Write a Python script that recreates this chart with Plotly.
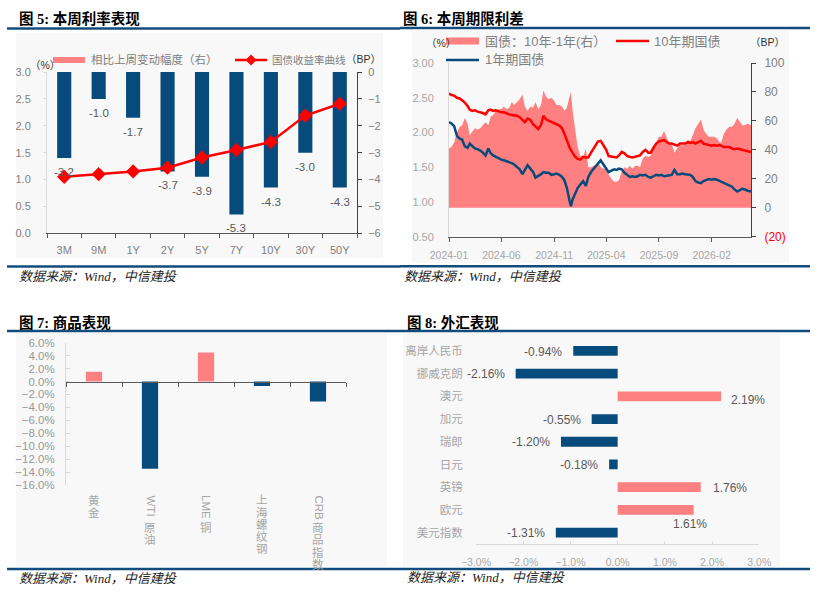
import plotly.graph_objects as go

W, H = 821, 597


def px(x):
    return x / W


def py(y):
    return 1 - y / H


BLUE = "#064B7C"
PINK = "#FF8080"
RED = "#FF0000"
RULE = "#124C7C"
BG = "#F8F8F8"
CJK = "Liberation Sans, Noto Sans CJK SC"
TITLEF = "Liberation Serif, Noto Sans CJK SC"

# ---------------- Panel 1: yield curve ----------------
tenors = ["3M", "9M", "1Y", "2Y", "5Y", "7Y", "10Y", "30Y", "50Y"]
weekly_change_bp = [-3.2, -1.0, -1.7, -3.7, -3.9, -5.3, -4.3, -3.0, -4.3]
yield_curve = [1.05, 1.10, 1.15, 1.22, 1.41, 1.55, 1.70, 2.19, 2.41]

# ---------------- Panel 2: term spread ----------------
dates = [
    "2024-01-01", "2024-01-08", "2024-01-16", "2024-01-24",
    "2024-02-01", "2024-02-08", "2024-02-16", "2024-02-24",
    "2024-03-01", "2024-03-08", "2024-03-16", "2024-03-24",
    "2024-04-01", "2024-04-08", "2024-04-16", "2024-04-24",
    "2024-05-01", "2024-05-08", "2024-05-16", "2024-05-24",
    "2024-06-01", "2024-06-08", "2024-06-16", "2024-06-24",
    "2024-07-01", "2024-07-08", "2024-07-16", "2024-07-24",
    "2024-08-01", "2024-08-08", "2024-08-16", "2024-08-24",
    "2024-09-01", "2024-09-08", "2024-09-16", "2024-09-24",
    "2024-10-01", "2024-10-08", "2024-10-16", "2024-10-24",
    "2024-11-01", "2024-11-08", "2024-11-16", "2024-11-24",
    "2024-12-01", "2024-12-08", "2024-12-16", "2024-12-20", "2024-12-24",
    "2025-01-01", "2025-01-08", "2025-01-16", "2025-01-24",
    "2025-02-01", "2025-02-08", "2025-02-16", "2025-02-24",
    "2025-03-01", "2025-03-08", "2025-03-16", "2025-03-24",
    "2025-04-01", "2025-04-08", "2025-04-16", "2025-04-24",
    "2025-05-01", "2025-05-08", "2025-05-16", "2025-05-24",
    "2025-06-01", "2025-06-08", "2025-06-16", "2025-06-24",
    "2025-07-01", "2025-07-08", "2025-07-16", "2025-07-24",
    "2025-08-01", "2025-08-08", "2025-08-16", "2025-08-24",
    "2025-09-01", "2025-09-08", "2025-09-16", "2025-09-24",
    "2025-10-01", "2025-10-08", "2025-10-16", "2025-10-24",
    "2025-11-01", "2025-11-08", "2025-11-16", "2025-11-24",
    "2025-12-01", "2025-12-08", "2025-12-16", "2025-12-24",
    "2026-01-01", "2026-01-08", "2026-01-16", "2026-01-24",
    "2026-02-01", "2026-02-08", "2026-02-16", "2026-02-24",
    "2026-03-01", "2026-03-08", "2026-03-16", "2026-03-24",
    "2026-04-01", "2026-04-08", "2026-04-16", "2026-04-24",
    "2026-05-01", "2026-05-08", "2026-05-16", "2026-05-26",
]
cgb_10y = [
    2.56, 2.54, 2.53, 2.50,
    2.49, 2.46, 2.43, 2.38,
    2.33, 2.31, 2.32, 2.30,
    2.29, 2.28, 2.26, 2.32,
    2.33, 2.31, 2.32, 2.30,
    2.29, 2.29, 2.27, 2.26,
    2.25, 2.25, 2.24, 2.22,
    2.18, 2.15, 2.20, 2.18,
    2.12, 2.08, 2.05, 2.11,
    2.24, 2.19, 2.17, 2.15,
    2.14, 2.12, 2.10, 2.06,
    1.98, 1.89, 1.78, 1.74, 1.71,
    1.65, 1.62, 1.61, 1.65,
    1.64, 1.64, 1.71, 1.77,
    1.81, 1.87, 1.88, 1.81,
    1.75, 1.66, 1.65, 1.65,
    1.64, 1.67, 1.72, 1.70,
    1.66, 1.65, 1.64, 1.65,
    1.66, 1.67, 1.72, 1.75,
    1.71, 1.71, 1.78, 1.84,
    1.87, 1.88, 1.89, 1.86,
    1.84, 1.84, 1.82, 1.81,
    1.84, 1.84, 1.84, 1.86,
    1.85, 1.86, 1.84, 1.86,
    1.88, 1.84, 1.83, 1.82,
    1.81, 1.82, 1.81, 1.82,
    1.81, 1.79, 1.79, 1.79,
    1.77, 1.76, 1.77, 1.76,
    1.75, 1.75, 1.74, 1.72,
]
cgb_1y = [
    2.15, 2.13, 2.09, 1.95,
    1.91, 1.90, 1.80, 1.78,
    1.84, 1.80, 1.77, 1.76,
    1.74, 1.71, 1.67, 1.77,
    1.70, 1.67, 1.65, 1.62,
    1.61, 1.60, 1.59, 1.57,
    1.56, 1.54, 1.51, 1.47,
    1.40, 1.46, 1.53, 1.48,
    1.43, 1.35, 1.37, 1.40,
    1.43, 1.42, 1.42, 1.39,
    1.40, 1.41, 1.39, 1.36,
    1.31, 1.20, 1.01, 0.94, 1.03,
    1.12, 1.20, 1.25, 1.30,
    1.23, 1.36, 1.43, 1.48,
    1.52, 1.55, 1.60, 1.54,
    1.48, 1.43, 1.45, 1.47,
    1.46, 1.48, 1.47, 1.42,
    1.39, 1.36, 1.37, 1.36,
    1.37, 1.39, 1.38, 1.39,
    1.36, 1.35, 1.37, 1.39,
    1.38, 1.39, 1.37, 1.38,
    1.39, 1.39, 1.46, 1.40,
    1.40, 1.41, 1.40, 1.39,
    1.39, 1.36, 1.30, 1.28,
    1.27, 1.30, 1.32, 1.33,
    1.32, 1.33, 1.32, 1.30,
    1.29, 1.28, 1.26, 1.24,
    1.22, 1.18, 1.15, 1.17,
    1.19, 1.18, 1.16, 1.15,
]
spread_bp = [
    41, 42, 45, 52,
    56, 57, 62, 58,
    50, 52, 55, 54,
    55, 57, 59, 57,
    63, 64, 67, 68,
    68, 70, 68, 69,
    73, 71, 73, 75,
    78, 70, 67, 70,
    69, 73, 68, 71,
    81, 77, 75, 76,
    74, 71, 71, 70,
    67, 69, 77, 80, 68,
    53, 42, 36, 35,
    41, 28, 28, 29,
    29, 32, 28, 27,
    27, 23, 20, 18,
    18, 19, 25, 28,
    27, 29, 27, 29,
    29, 28, 34, 36,
    35, 36, 41, 45,
    49, 49, 53, 48,
    45, 44, 38, 41,
    44, 43, 44, 47,
    46, 50, 55, 58,
    61, 54, 51, 49,
    49, 49, 48, 45,
    45, 51, 54, 56,
    56, 58, 62, 59,
    57, 57, 58, 57,
]
spread_ticks = [-20, 0, 20, 40, 60, 80, 100]

# ---------------- Panel 3: commodities ----------------
commodities = ["黄金", "WTI原油", "LME铜", "上海螺纹钢", "CRB商品指数"]
commodity_chg = [1.5, -13.5, 4.5, -0.7, -3.1]

# ---------------- Panel 4: FX ----------------
fx_names = ["离岸人民币", "挪威克朗", "澳元", "加元", "瑞郎", "日元", "英镑", "欧元", "美元指数"]
fx_chg = [-0.94, -2.16, 2.19, -0.55, -1.20, -0.18, 1.76, 1.61, -1.31]

fig = go.Figure()

# Panel 1 traces
fig.add_trace(go.Bar(x=tenors, y=weekly_change_bp, xaxis="x", yaxis="y",
                     marker=dict(color=BLUE, line=dict(width=0)), width=0.41,
                     name="相比上周变动幅度（右）", showlegend=False))
fig.add_trace(go.Scatter(x=tenors, y=yield_curve, xaxis="x", yaxis="y2",
                         mode="lines+markers", line=dict(color=RED, width=2.5),
                         marker=dict(symbol="diamond", size=11, color=RED),
                         name="国债收益率曲线", showlegend=False))

# Panel 2 traces
fig.add_trace(go.Scatter(x=dates, y=spread_bp, xaxis="x2", yaxis="y3", fill="tozeroy",
                         mode="lines", line=dict(width=0, color=PINK), fillcolor=PINK,
                         name="国债：10年-1年(右）", showlegend=False))
fig.add_trace(go.Scatter(x=dates, y=cgb_10y, xaxis="x2", yaxis="y4", mode="lines",
                         line=dict(color=RED, width=2.5), name="10年期国债", showlegend=False))
fig.add_trace(go.Scatter(x=dates, y=cgb_1y, xaxis="x2", yaxis="y4", mode="lines",
                         line=dict(color=BLUE, width=2.5), name="1年期国债", showlegend=False))

# Panel 3 traces
fig.add_trace(go.Bar(x=commodities, y=commodity_chg, xaxis="x3", yaxis="y5",
                     marker=dict(color=[PINK if v > 0 else BLUE for v in commodity_chg], line=dict(width=0)),
                     width=0.29, showlegend=False))

# Panel 4 traces
fig.add_trace(go.Bar(x=fx_chg, y=fx_names, orientation="h", xaxis="x4", yaxis="y6",
                     marker=dict(color=[PINK if v > 0 else BLUE for v in fx_chg], line=dict(width=0)),
                     width=0.43, showlegend=False))

GRAY_T = "#808080"
LGRAY_T = "#A6A6A6"
DARK_L = "#595959"

layout_axes = dict(
    xaxis=dict(domain=[px(47), px(357)], anchor="y", type="category", range=[-0.5, 8.5],
               showline=True, linecolor=DARK_L, ticks="outside", tickson="boundaries",
               ticklen=4, tickcolor=DARK_L, tickfont=dict(size=11, color=GRAY_T, family=CJK),
               ticklabelstandoff=6, showgrid=False, zeroline=False),
    yaxis=dict(domain=[py(233.3), py(72)], anchor="x", side="right", range=[-6, 0], dtick=1,
               showline=True, linecolor="#404040", ticks="outside", ticklen=4, tickcolor="#404040",
               tickfont=dict(size=11, color=GRAY_T, family=CJK), ticklabelstandoff=4,
               showgrid=False, zeroline=False),
    yaxis2=dict(overlaying="y", side="left", anchor="x", range=[0, 3], dtick=0.5, tickformat=".1f",
                showline=True, linecolor="#D9D9D9", ticks="outside", ticklen=3, tickcolor="#D9D9D9",
                tickfont=dict(size=11, color=GRAY_T, family=CJK), ticklabelstandoff=10,
                showgrid=False, zeroline=False),
    xaxis2=dict(domain=[px(449), px(751)], anchor="y3", type="date",
                range=["2024-01-01", "2026-05-26"], tick0="2024-01-01", dtick="M5",
                tickformat="%Y-%m", showline=True, linecolor=DARK_L, ticks="outside", ticklen=4,
                tickcolor=DARK_L, tickfont=dict(size=10.5, color=LGRAY_T, family=CJK),
                ticklabelstandoff=5, showgrid=False, zeroline=False),
    yaxis3=dict(domain=[py(236.7), py(63)], anchor="x2", side="right", range=[-20, 100],
                tickmode="array", tickvals=spread_ticks,
                ticktext=["<span style='color:#FF0000'>(20)</span>" if v < 0 else str(v) for v in spread_ticks],
                showline=True, linecolor="#404040", ticks="outside", ticklen=4, tickcolor="#404040",
                tickfont=dict(size=12, color=GRAY_T, family=CJK), ticklabelstandoff=6,
                showgrid=False, zeroline=False),
    yaxis4=dict(overlaying="y3", side="left", anchor="x2", range=[0.5, 3.0], dtick=0.5,
                tickformat=".2f", showline=True, linecolor="#D9D9D9", ticks="",
                tickfont=dict(size=11, color=LGRAY_T, family=CJK), ticklabelstandoff=12,
                showgrid=False, zeroline=False),
    xaxis3=dict(domain=[px(66), px(346)], anchor="free", position=0.36095, type="category",
                range=[-0.5, 4.5], showticklabels=False, showline=True, linecolor=DARK_L,
                ticks="outside", tickson="boundaries", ticklen=4, tickcolor=DARK_L,
                showgrid=False, zeroline=False),
    yaxis5=dict(domain=[py(485), py(342.7)], anchor="x3", range=[-16, 6], dtick=2,
                tickformat=".1f", ticksuffix="%", showline=True, linecolor="#D9D9D9",
                ticks="inside", ticklen=4, tickcolor="#D9D9D9",
                tickfont=dict(size=11.5, color="#999999", family=CJK), ticklabelstandoff=8,
                showgrid=False, zeroline=False),
    xaxis4=dict(domain=[px(476), px(759.3)], anchor="y6", range=[-3, 3], dtick=1,
                tickformat=".1f", ticksuffix="%", showline=True, linecolor="#D9D9D9",
                ticks="inside", ticklen=3, tickcolor="#D9D9D9",
                tickfont=dict(size=10.5, color="#AAAAAA", family=CJK), ticklabelstandoff=8,
                showgrid=False, zeroline=False),
    yaxis6=dict(domain=[py(544), py(339.5)], anchor="x4", type="category", range=[8.5, -0.5],
                showline=False, ticks="outside", ticklen=10, tickcolor="rgba(0,0,0,0)",
                tickfont=dict(size=11.5, color=LGRAY_T, family=CJK), showgrid=False, zeroline=False),
    yaxis7=dict(overlaying="y6", anchor="free", position=(px(476) + px(759.3)) / 2, side="right",
                range=[8.5, -0.5], tickmode="array", tickvals=[i - 0.5 for i in range(10)],
                ticks="outside", ticklen=4, tickcolor="#404040", showline=True, linecolor="#404040",
                showticklabels=False, showgrid=False, zeroline=False),
)

shapes = []
annotations = []

# chart backgrounds
for x0, y0, x1, y1 in [(16, 33, 383, 258), (412, 30, 789, 263), (16, 333, 387, 567), (403, 333, 780, 567)]:
    shapes.append(dict(type="rect", xref="paper", yref="paper", x0=px(x0), x1=px(x1),
                       y0=py(y1), y1=py(y0), fillcolor=BG, line=dict(width=0), layer="below"))

# rules
for x0, x1, yy in [(7, 400, 28.5), (7, 400, 266.5), (400, 810, 28), (400, 810, 266.3),
                   (7, 400, 331), (7, 400, 569), (400, 810, 331), (400, 810, 569)]:
    shapes.append(dict(type="line", xref="paper", yref="paper", x0=px(x0), x1=px(x1),
                       y0=py(yy), y1=py(yy), line=dict(color=RULE, width=2.5)))

# titles and sources
for x, y, t in [(17, 18, "图 5: 本周利率表现"), (401, 18, "图 6: 本周期限利差"),
                (17, 322, "图 7: 商品表现"), (405, 322, "图 8: 外汇表现")]:
    annotations.append(dict(xref="paper", yref="paper", x=px(x), y=py(y), xanchor="left",
                            yanchor="middle", showarrow=False, text="<b>" + t + "</b>",
                            font=dict(size=14.5, color="#000000", family=TITLEF)))
for x, y in [(17, 276.5), (402, 276.5), (17, 578), (405, 577.5)]:
    annotations.append(dict(xref="paper", yref="paper", x=px(x), y=py(y), xanchor="left",
                            yanchor="middle", showarrow=False, text="<i>数据来源：Wind，中信建投</i>",
                            font=dict(size=13, color="#222222", family=TITLEF)))

# unit labels
for x, y, t in [(45, 65, "（%）"), (363, 59, "（BP）"), (441, 43, "（%）"), (767, 42, "（BP）")]:
    annotations.append(dict(xref="paper", yref="paper", x=px(x), y=py(y), xanchor="center",
                            yanchor="middle", showarrow=False, text=t,
                            font=dict(size=10.5, color="#333333", family=CJK)))

# panel 1 legend
shapes.append(dict(type="rect", xref="paper", yref="paper", x0=px(53), x1=px(85), y0=py(63), y1=py(57),
                   fillcolor=PINK, line=dict(width=0)))
shapes.append(dict(type="line", xref="paper", yref="paper", x0=px(235), x1=px(267), y0=py(60), y1=py(60),
                   line=dict(color=RED, width=2.5)))
shapes.append(dict(type="path", xref="paper", yref="paper",
                   path=f"M {px(251)},{py(54.5)} L {px(256.5)},{py(60)} L {px(251)},{py(65.5)} L {px(245.5)},{py(60)} Z",
                   fillcolor=RED, line=dict(width=0)))
annotations.append(dict(xref="paper", yref="paper", x=px(89), y=py(60), xanchor="left", yanchor="middle",
                        showarrow=False, text="相比上周变动幅度（右）",
                        font=dict(size=11.5, color=GRAY_T, family=CJK)))
annotations.append(dict(xref="paper", yref="paper", x=px(270), y=py(60), xanchor="left", yanchor="middle",
                        showarrow=False, text="国债收益率曲线",
                        font=dict(size=10.5, color=GRAY_T, family=CJK)))

# panel 2 legend
shapes.append(dict(type="rect", xref="paper", yref="paper", x0=px(446), x1=px(479), y0=py(44.5), y1=py(37.5),
                   fillcolor=PINK, line=dict(width=0)))
shapes.append(dict(type="line", xref="paper", yref="paper", x0=px(616), x1=px(649), y0=py(41), y1=py(41),
                   line=dict(color=RED, width=2.5)))
shapes.append(dict(type="line", xref="paper", yref="paper", x0=px(446), x1=px(479), y0=py(60), y1=py(60),
                   line=dict(color=BLUE, width=2.5)))
for x, y, t in [(483, 41, "国债：10年-1年(右）"), (652, 41, "10年期国债"), (483, 60, "1年期国债")]:
    annotations.append(dict(xref="paper", yref="paper", x=px(x), y=py(y), xanchor="left", yanchor="middle",
                            showarrow=False, text=t, font=dict(size=13, color=GRAY_T, family=CJK)))

# panel 1 bar labels
for t, v in zip(tenors, weekly_change_bp):
    annotations.append(dict(xref="x", yref="y", x=t, y=v, yshift=-14, xanchor="center", yanchor="middle",
                            showarrow=False, text=f"{v:.1f}",
                            font=dict(size=11.5, color="#595959", family=CJK)))

# panel 3 vertical category labels
for name in commodities:
    latin = "".join(ch for ch in name if ord(ch) < 128)
    han = "".join(ch for ch in name if ord(ch) >= 128)
    if latin:
        annotations.append(dict(xref="x3", yref="paper", x=name, y=py(493), xanchor="center",
                                yanchor="top", textangle=90, showarrow=False, text=latin,
                                font=dict(size=11.5, color=LGRAY_T, family=CJK)))
        y_cur = 493 + len(latin) * 7.5 + 12
    else:
        y_cur = 500
    for ch in han:
        annotations.append(dict(xref="x3", yref="paper", x=name, y=py(y_cur), xanchor="center",
                                yanchor="middle", showarrow=False, text=ch,
                                font=dict(size=11.5, color=LGRAY_T, family=CJK)))
        y_cur += 12.3

# panel 4 value labels
fx_label_dx = [-9, -9, 8, -9, -9, -9, 10, -4, -9]
fx_label_dy = [-1, 0, -4, -1, 0, -1, -1, -14, 0]
for n, v, dx, dy in zip(fx_names, fx_chg, fx_label_dx, fx_label_dy):
    anchor = "right" if v < 0 else "left"
    if dy < -10:
        anchor = "center"
    annotations.append(dict(xref="x4", yref="y6", x=v, y=n, xshift=dx, yshift=dy, xanchor=anchor,
                            yanchor="middle", showarrow=False, text=f"{v:.2f}%",
                            font=dict(size=12, color="#595959", family=CJK)))

fig.update_layout(
    width=W, height=H, margin=dict(l=0, r=0, t=0, b=0, pad=0, autoexpand=False),
    paper_bgcolor="#FFFFFF", plot_bgcolor="rgba(0,0,0,0)",
    showlegend=False, barmode="overlay",
    font=dict(family=CJK, size=11, color="#595959"),
    shapes=shapes, annotations=annotations,
    **layout_axes,
)

fig.write_html("out.html")
